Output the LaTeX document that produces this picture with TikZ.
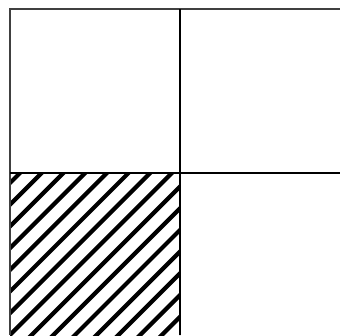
\documentclass[tikz,border=0pt]{standalone}

\begin{document}
\begin{tikzpicture}[
    x=1pt, y=-1pt,
    frame line/.style={draw=black!75, line width=1.8pt},
    grid line/.style={draw=black, line width=1.4pt},
    hatch line/.style={draw=black, line width=4.2pt}
]
\useasboundingbox (0,0) rectangle (340,335);

% corner points of the grid
\coordinate (tl) at (10,9);
\coordinate (tr) at (340,9);
\coordinate (bl) at (10,335);
\coordinate (tm) at (180,9);
\coordinate (bm) at (180,335);
\coordinate (ml) at (10,173);
\coordinate (mr) at (340,173);

% hatched quarter (lower left)
\begin{scope}
    \clip (ml) rectangle (bm);
    \foreach \c in {193,214.7,...,530}
        \draw[hatch line] (\c-345,345) -- (\c-165,165);
\end{scope}

% grid lines
\draw[frame line] (tr) -- (tl) -- (bl);
\draw[grid line] (tm) -- (bm);
\draw[grid line] (ml) -- (mr);
\end{tikzpicture}
\end{document}
